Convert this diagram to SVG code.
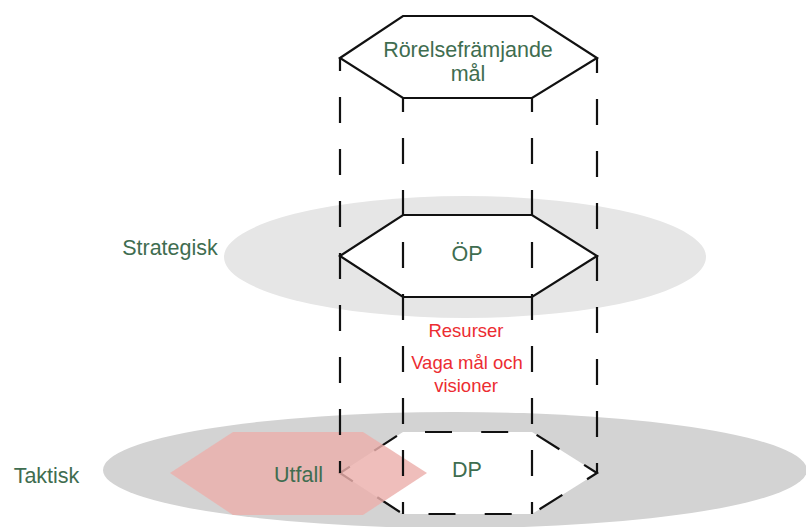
<svg xmlns="http://www.w3.org/2000/svg" width="806" height="527" viewBox="0 0 806 527">
  <style>
    .lbl { font-family: "Liberation Sans", Arial, sans-serif; fill: #3f6d50; font-size: 21.5px; text-anchor: middle; }
    .red { font-family: "Liberation Sans", Arial, sans-serif; fill: #ec2c31; font-size: 18.5px; text-anchor: middle; }
    .hex { fill: #ffffff; stroke: #111111; stroke-width: 2.2; stroke-linejoin: miter; }
    .hexdash { fill: #ffffff; stroke: #111111; stroke-width: 2.2; stroke-dasharray: 27 29.2; stroke-dashoffset: 34.2; }
    .vline { stroke: #111111; stroke-width: 2.2; fill: none; stroke-dasharray: 26 26; }
  </style>
  <rect width="806" height="527" fill="#ffffff"/>

  <g id="level-strategisk">
    <ellipse cx="465" cy="257" rx="241" ry="61" fill="#e6e6e6"/>
    <text class="lbl" x="170" y="255">Strategisk</text>
  </g>

  <g id="level-taktisk">
    <ellipse cx="455" cy="470" rx="352" ry="58" fill="#d3d3d3"/>
    <text class="lbl" x="46.5" y="483">Taktisk</text>
  </g>

  <g id="node-rorelsefraemjande">
    <polygon class="hex" points="340,58 403,16 532,16 597,58 532,98 403,98"/>
    <text class="lbl" x="468" y="57" font-size="21">Rörelsefrämjande</text>
    <text class="lbl" x="468" y="81" font-size="21">mål</text>
  </g>

  <g id="node-op">
    <polygon class="hex" points="340,256 403,215 532,215 597,256 532,297 403,297"/>
    <text class="lbl" x="467" y="261">ÖP</text>
  </g>

  <g id="node-dp">
    <path class="hexdash" d="M403,432 L532,432 L597,473 L532,514 L403,514 L340,473 Z"/>
    <text class="lbl" x="467" y="477">DP</text>
  </g>

  <g id="node-utfall">
    <polygon points="170,473 233,432 363,432 427,473 363,515 233,515" fill="rgb(236,176,172)" fill-opacity="0.82"/>
    <text class="lbl" x="298.5" y="482">Utfall</text>
  </g>

  <g id="connectors">
    <line class="vline" x1="340" y1="58" x2="340" y2="473" stroke-dashoffset="13"/>
    <line class="vline" x1="597" y1="58" x2="597" y2="473" stroke-dashoffset="11"/>
    <line class="vline" x1="403" y1="98" x2="403" y2="514" stroke-dashoffset="12"/>
    <line class="vline" x1="532" y1="98" x2="532" y2="514" stroke-dashoffset="12"/>
  </g>

  <g id="annotation">
    <text class="red" x="466" y="337">Resurser</text>
    <text class="red" x="467" y="369">Vaga mål och</text>
    <text class="red" x="466" y="392">visioner</text>
  </g>
</svg>
